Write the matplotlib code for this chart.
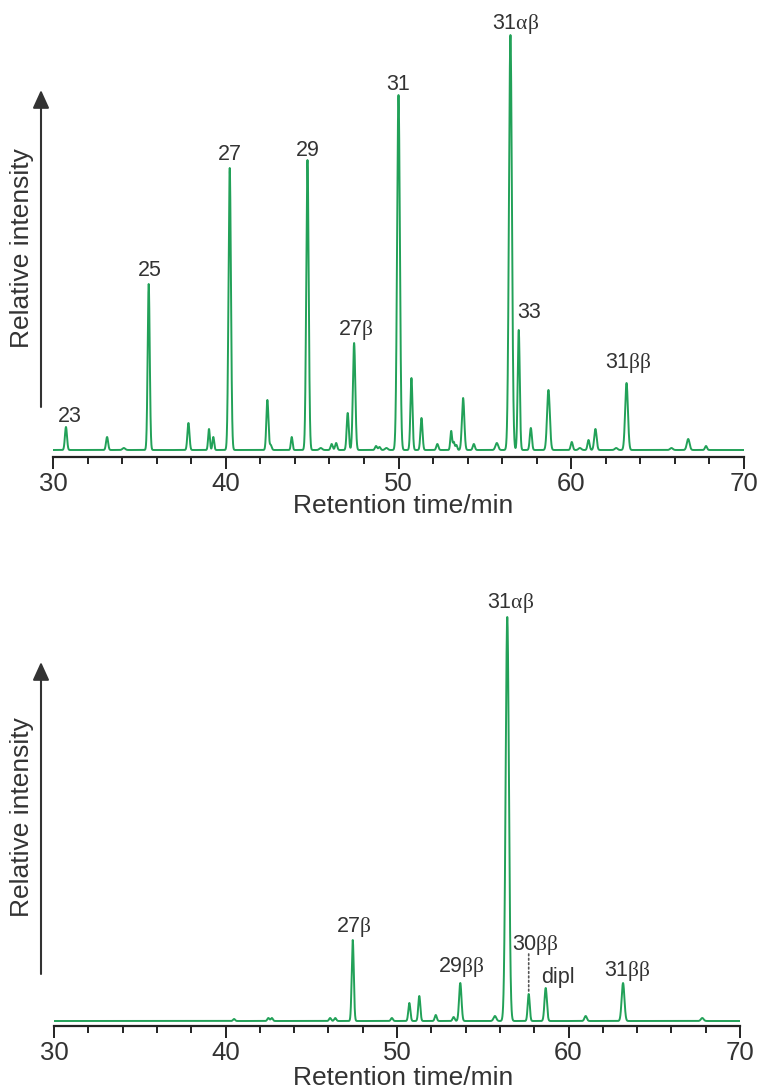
import numpy as np
import matplotlib
matplotlib.use("Agg")
import matplotlib.pyplot as plt
from matplotlib.patches import FancyArrowPatch

plt.rcParams['font.family'] = ['Liberation Sans', 'DejaVu Sans']
plt.rcParams['mathtext.fontset'] = 'custom'
plt.rcParams['mathtext.rm'] = 'Liberation Serif'
plt.rcParams['mathtext.it'] = 'Liberation Serif'

# ---------------- data: top chromatogram (peak retention time, height, width) ----
top_rt = [30.75, 33.13, 34.1, 35.54, 37.84, 39.03, 39.28, 40.23, 42.41, 42.6,
          43.82, 44.73, 45.5, 46.13, 46.39, 47.06, 47.43, 48.7, 48.9, 49.3,
          50.0, 50.75, 51.33, 52.25, 53.05, 53.2, 53.35, 53.74, 54.36, 55.69,
          56.48, 56.96, 57.66, 58.68, 60.03, 60.5, 61.0, 61.4, 62.6,
          63.2, 65.8, 66.77, 67.8]
top_h = [23, 13, 2, 166, 27, 21, 13, 282, 50, 5,
         13, 290, 2, 6, 7, 37, 107, 4, 3, 2,
         355, 72, 32, 6, 19, 8, 5, 52, 6, 7,
         415, 120, 22, 60, 8, 2, 10, 21, 2,
         67, 2, 11, 4]
top_w = [0.06, 0.06, 0.08, 0.06, 0.06, 0.05, 0.05, 0.07, 0.06, 0.06,
         0.05, 0.07, 0.08, 0.06, 0.06, 0.06, 0.07, 0.06, 0.06, 0.08,
         0.08, 0.06, 0.06, 0.06, 0.05, 0.05, 0.05, 0.07, 0.06, 0.08,
         0.085, 0.06, 0.06, 0.08, 0.06, 0.08, 0.06, 0.07, 0.08,
         0.08, 0.08, 0.08, 0.06]

# ---------------- data: bottom chromatogram ----
bot_rt = [40.5, 42.5, 42.7, 46.1, 46.4, 47.42, 49.7, 50.72, 51.3, 52.26,
          53.3, 53.69, 55.71, 56.43, 57.68, 58.67, 61.0, 63.18, 67.8]
bot_h = [2, 3, 3, 3, 3, 81, 3, 18, 25, 6,
         4, 38, 5, 404, 27, 33, 5, 38, 3]
bot_w = [0.06, 0.06, 0.06, 0.06, 0.06, 0.06, 0.06, 0.06, 0.06, 0.06,
         0.06, 0.07, 0.08, 0.095, 0.06, 0.07, 0.07, 0.08, 0.08]

# peak labels: text, retention time of labelled peak, offset (px) of label centre
top_labels = ["23", "25", "27", "29", "27$\\beta$", "31", "31$\\alpha\\beta$", "33", "31$\\beta\\beta$"]
top_label_rt = [30.75, 35.54, 40.23, 44.73, 47.43, 50.0, 56.48, 56.96, 63.2]
top_label_off = [(4, 10), (1, 14), (0, 14), (0, 10), (2, 13), (0, 10), (5, 11), (10, 17), (2, 20)]

bot_labels = ["27$\\beta$", "31$\\alpha\\beta$", "29$\\beta\\beta$", "30$\\beta\\beta$", "dipl", "31$\\beta\\beta$"]
bot_label_rt = [47.42, 56.43, 53.69, 57.68, 58.67, 63.18]
bot_label_off = [(1, 13), (3, 14), (1, 16), (7, 49), (12, 11), (4, 12)]

xticks_major = [30, 40, 50, 60, 70]

GREEN = '#22a158'
DARK = '#333333'


def trace(rt, h, w, x):
    y = np.zeros_like(x)
    for c, a, s in zip(rt, h, w):
        y += a * np.exp(-0.5 * ((x - c) / s) ** 2)
    return y


W, H = 761, 1091
fig = plt.figure(figsize=(W / 100, H / 100), dpi=100)

x = np.linspace(30, 70, 12000)


def make_axes(left_px, right_px, axis_y_px, top_px, base_off):
    ax = fig.add_axes([left_px / W, (H - axis_y_px) / H,
                       (right_px - left_px) / W, (axis_y_px - top_px) / H])
    ax.set_xlim(30, 70)
    ax.set_ylim(-base_off, axis_y_px - top_px - base_off)
    for s in ['left', 'right', 'top']:
        ax.spines[s].set_visible(False)
    ax.spines['bottom'].set_linewidth(1.6)
    ax.spines['bottom'].set_color('#222222')
    ax.set_yticks([])
    ax.set_xticks(xticks_major)
    ax.set_xticks(np.arange(30, 71, 2), minor=True)
    ax.tick_params(axis='x', which='major', length=8.5, width=1.4, colors='#222222',
                   direction='out', pad=2.5, labelsize=18.5, labelcolor=DARK)
    ax.tick_params(axis='x', which='minor', length=5, width=1.4, colors='#222222',
                   direction='out')
    return ax


def arrow(ytop, ybot):
    a = FancyArrowPatch((41 / W, (H - ybot) / H), (41 / W, (H - ytop) / H),
                        transform=fig.transFigure,
                        arrowstyle='-|>,head_length=1.1,head_width=0.5',
                        mutation_scale=10, color=DARK, linewidth=1.5,
                        shrinkA=0, shrinkB=0)
    fig.add_artist(a)


LABEL_FS = 15.5

# ---------------- top panel ----
ax1 = make_axes(53, 744, 457, 20, 7)
ax1.plot(x, trace(top_rt, top_h, top_w, x), color=GREEN, lw=1.4)
for lab, rt, (dx, dy) in zip(top_labels, top_label_rt, top_label_off):
    peak = trace(top_rt, top_h, top_w, np.array([rt]))[0]
    ax1.annotate(lab, (rt, peak), xytext=(dx, dy), textcoords='offset pixels',
                 ha='center', va='center', fontsize=LABEL_FS, color=DARK)
arrow(90, 407)
fig.text(22 / W, (H - 248) / H, 'Relative intensity', rotation=90, ha='center',
         va='center', fontsize=19, color=DARK)
fig.text(403 / W, (H - 506) / H, 'Retention time/min', ha='center', va='center',
         fontsize=19, color=DARK)

# ---------------- bottom panel ----
ax2 = make_axes(54, 740, 1026, 590, 5)
ax2.plot(x, trace(bot_rt, bot_h, bot_w, x), color=GREEN, lw=1.4)
for lab, rt, (dx, dy) in zip(bot_labels, bot_label_rt, bot_label_off):
    peak = trace(bot_rt, bot_h, bot_w, np.array([rt]))[0]
    ax2.annotate(lab, (rt, peak), xytext=(dx, dy), textcoords='offset pixels',
                 ha='center', va='center', fontsize=LABEL_FS, color=DARK)
    if lab.startswith('30'):
        ax2.annotate('', (rt, peak + 2), xytext=(0, dy - 11),
                     textcoords='offset pixels',
                     arrowprops=dict(arrowstyle='-', linestyle=':', color='#555555',
                                     lw=1.2, shrinkA=0, shrinkB=0))
arrow(662, 974)
fig.text(22 / W, (H - 817) / H, 'Relative intensity', rotation=90, ha='center',
         va='center', fontsize=19, color=DARK)
fig.text(403 / W, (H - 1078) / H, 'Retention time/min', ha='center', va='center',
         fontsize=19, color=DARK)

fig.savefig('out.png', dpi=100)
